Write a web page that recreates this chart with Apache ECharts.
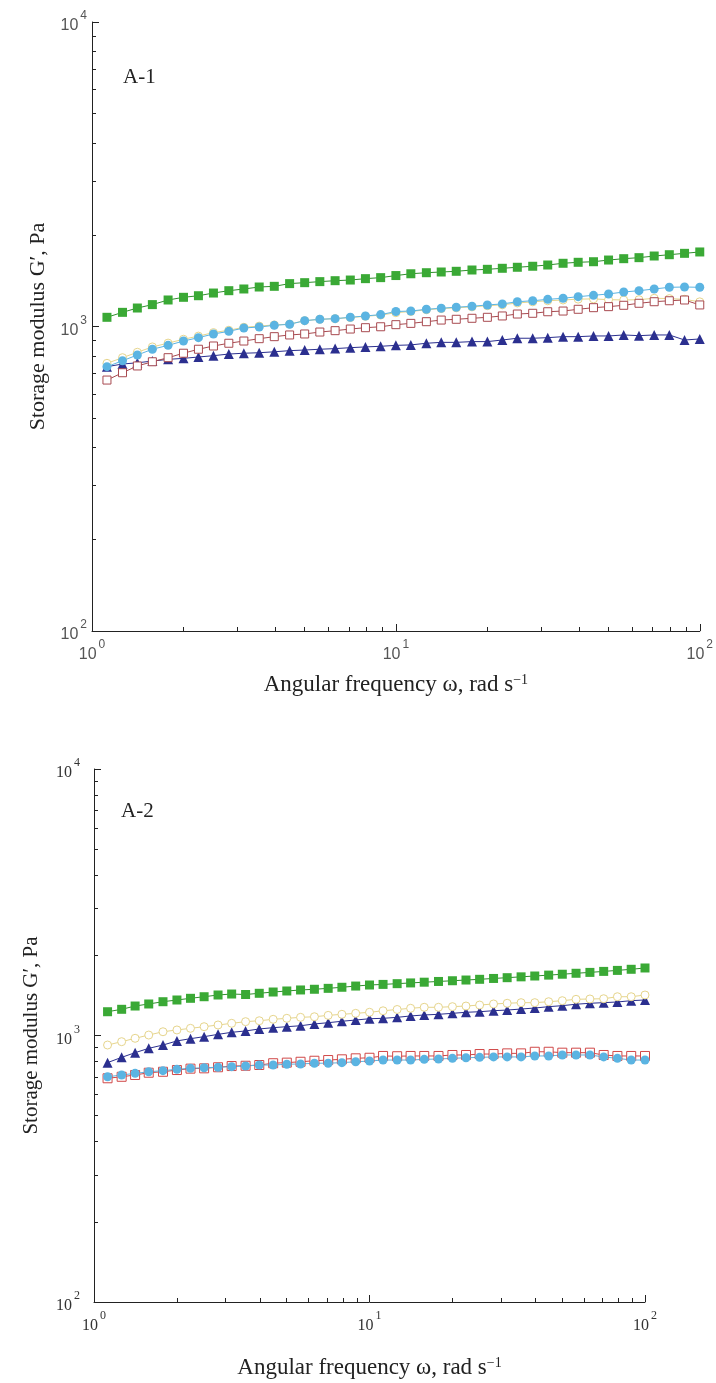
<!DOCTYPE html>
<html><head><meta charset="utf-8">
<script src="https://cdn.jsdelivr.net/npm/echarts@6/dist/echarts.min.js"></script>
<style>html,body{margin:0;padding:0;background:#fff}#c{width:716px;height:1383px}</style>
</head><body><div id="c"></div>
<script>
// Angular frequency (rad/s), shared by both panels
const freq = [1.12,1.26,1.41,1.58,1.78,2.00,2.24,2.51,2.82,3.16,3.55,3.98,4.47,5.01,5.62,6.31,7.08,7.94,8.91,10.0,11.2,12.6,14.1,15.8,17.8,20.0,22.4,25.1,28.2,31.6,35.5,39.8,44.7,50.1,56.2,63.1,70.8,79.4,89.1,100];

// Panel A-1 storage modulus G' (Pa)
const greenA1 = [1072,1113,1150,1180,1222,1247,1262,1288,1311,1328,1348,1355,1383,1393,1404,1414,1421,1436,1447,1470,1490,1502,1510,1518,1533,1541,1553,1565,1577,1592,1613,1625,1632,1653,1670,1683,1704,1721,1739,1757];
const blueA1 = [738,772,806,842,867,896,919,945,964,989,996,1009,1017,1045,1056,1061,1072,1083,1094,1120,1124,1139,1148,1157,1165,1177,1186,1206,1215,1228,1238,1253,1266,1279,1298,1311,1328,1345,1348,1345];
const yellowA1 = [757,790,823,857,882,908,930,955,972,994,1003,1012,1018,1045,1056,1061,1070,1080,1090,1110,1120,1135,1145,1152,1160,1170,1178,1195,1205,1215,1222,1230,1232,1225,1222,1225,1238,1235,1228,1205];
const redA1 = [667,705,742,766,790,817,842,863,881,896,912,926,938,945,959,969,981,991,998,1014,1024,1037,1050,1056,1064,1072,1083,1099,1105,1118,1124,1139,1153,1162,1174,1192,1206,1215,1222,1177];
const navyA1 = [738,753,760,770,780,786,794,802,812,817,820,826,833,837,842,846,852,857,861,867,870,881,887,887,892,892,903,915,915,919,926,926,931,931,938,933,938,938,903,910];

// Panel A-2 storage modulus G' (Pa)
const greenA2 = [1228,1254,1290,1313,1339,1359,1379,1398,1419,1431,1425,1440,1456,1469,1482,1491,1503,1517,1533,1547,1555,1565,1575,1585,1595,1605,1615,1625,1637,1648,1660,1672,1685,1698,1712,1725,1740,1755,1772,1792];
const yellowA2 = [921,948,976,1004,1033,1049,1064,1079,1095,1111,1127,1136,1150,1160,1170,1176,1190,1201,1211,1222,1238,1252,1265,1276,1276,1283,1290,1301,1313,1321,1328,1328,1339,1351,1367,1371,1374,1398,1398,1419];
const navyA2 = [791,828,862,895,921,954,973,990,1010,1028,1040,1058,1070,1079,1088,1105,1117,1131,1143,1156,1160,1170,1184,1194,1201,1211,1222,1228,1239,1246,1257,1268,1283,1294,1310,1321,1328,1336,1351,1359];
const redA2 = [691,700,711,725,731,742,751,753,760,768,770,775,787,791,797,804,809,814,821,825,838,836,838,838,838,845,845,852,852,857,857,869,869,862,862,862,845,838,838,838];
const blueA2 = [700,711,721,731,738,747,753,757,760,764,768,775,775,780,782,787,787,791,797,802,809,809,809,814,816,821,825,828,831,831,831,838,838,845,845,845,831,821,809,809];

const panelLabels = ['A-1','A-2'];
const xTitle = 'Angular frequency ω, rad s{sup|−1}';
const yTitle = 'Storage modulus G′, Pa';

const SERIF = '"Liberation Serif","Times New Roman",serif';
const SANS = '"Liberation Sans",Arial,sans-serif';

function pair(x, y){ return x.map((v,i)=>[v,y[i]]); }
function supFmt(v){ const e = Math.round(Math.log10(v)); return '{b|10}{s|' + e + '}'; }
function rich(font, color, fs){
  return { b:{fontFamily:font,fontSize:fs,color:color,lineHeight:24,verticalAlign:'bottom'},
           s:{fontFamily:font,fontSize:fs-4,color:color,lineHeight:12,verticalAlign:'top',padding:[0,0,0,2]} };
}
const axisLine = {show:true,onZero:false,lineStyle:{color:'#222',width:1}};

function xAxis(idx, font, color, gap, fs){
  return {type:'log',logBase:10,min:1,max:100,gridIndex:idx,position:'bottom',
    axisLine:axisLine,axisTick:{show:true,inside:true,length:7,lineStyle:{color:'#222'}},
    minorTick:{show:true,splitNumber:9,length:4,lineStyle:{color:'#222'}},
    splitLine:{show:false},minorSplitLine:{show:false},
    axisLabel:{formatter:supFmt,rich:rich(font,color,16),margin:8},
    name:xTitle,nameLocation:'middle',nameGap:gap,
    nameTextStyle:{fontFamily:SERIF,fontSize:fs,color:'#222',rich:{sup:{fontFamily:SERIF,fontSize:Math.round(fs*0.62),color:'#222',verticalAlign:'top',lineHeight:14}}}};
}
function yAxis(idx, font, color, gap, fs, lm){
  return {type:'log',logBase:10,min:100,max:10000,gridIndex:idx,
    axisLine:axisLine,axisTick:{show:true,inside:true,length:7,lineStyle:{color:'#222'}},
    minorTick:{show:true,splitNumber:9,length:4,lineStyle:{color:'#222'}},
    splitLine:{show:false},minorSplitLine:{show:false},
    axisLabel:{formatter:supFmt,rich:rich(font,color,16),margin:lm},
    name:yTitle,nameLocation:'middle',nameGap:gap,nameRotate:90,
    nameTextStyle:{fontFamily:SERIF,fontSize:fs,color:'#222'}};
}

const styles = {
  green:{symbol:'rect',symbolSize:9,itemStyle:{color:'#3aa935'},lineStyle:{color:'#2f8f2c',width:1}},
  blue:{symbol:'circle',symbolSize:9,itemStyle:{color:'#5bb4e2'},lineStyle:{color:'#5bb4e2',width:1}},
  yellow:{symbol:'circle',symbolSize:8,itemStyle:{color:'#ffffff',borderColor:'#e6d58c',borderWidth:1},lineStyle:{color:'#e6d58c',width:1}},
  redA1:{symbol:'rect',symbolSize:8,itemStyle:{color:'#ffffff',borderColor:'#a84a50',borderWidth:1},lineStyle:{color:'#a84a50',width:1}},
  redA2:{symbol:'rect',symbolSize:9,itemStyle:{color:'#ffffff',borderColor:'#d04848',borderWidth:1},lineStyle:{color:'#d04848',width:1}},
  navy:{symbol:'triangle',symbolSize:10,itemStyle:{color:'#2b2f8f'},lineStyle:{color:'#2b2f8f',width:1}}
};
function ser(idx, data, st){
  return Object.assign({type:'line',xAxisIndex:idx,yAxisIndex:idx,data:pair(freq,data),showSymbol:true,showAllSymbol:true,animation:false,silent:true}, styles[st]);
}

const chart = echarts.init(document.getElementById('c'), null, {renderer:'canvas'});
chart.setOption({
  backgroundColor:'#fff',
  animation:false,
  title:[
    {text:panelLabels[0],left:118,top:62,textStyle:{fontFamily:SERIF,fontSize:21,fontWeight:'normal',color:'#222'}},
    {text:panelLabels[1],left:116,top:796,textStyle:{fontFamily:SERIF,fontSize:21,fontWeight:'normal',color:'#222'}}
  ],
  grid:[
    {left:92,top:22,width:613,height:609},
    {left:94,top:769,width:551,height:533}
  ],
  xAxis:[xAxis(0,SANS,'#555',42,23), xAxis(1,SERIF,'#333',54,23)],
  yAxis:[yAxis(0,SANS,'#555',36,22,5), yAxis(1,SERIF,'#333',52,21,14)],
  series:[
    ser(0,navyA1,'navy'), ser(0,yellowA1,'yellow'), ser(0,redA1,'redA1'), ser(0,blueA1,'blue'), ser(0,greenA1,'green'),
    ser(1,navyA2,'navy'), ser(1,yellowA2,'yellow'), ser(1,redA2,'redA2'), ser(1,blueA2,'blue'), ser(1,greenA2,'green')
  ]
});
</script></body></html>
